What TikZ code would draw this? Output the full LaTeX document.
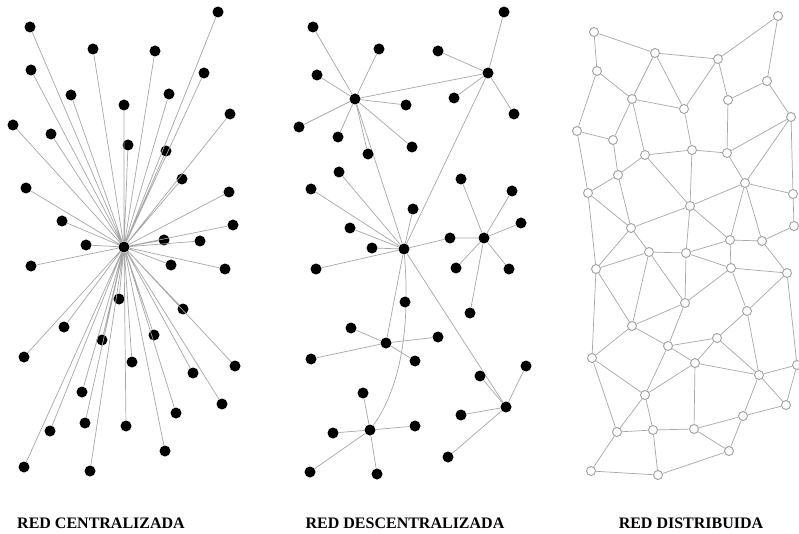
\documentclass[tikz,border=0pt]{standalone}
\usepackage{fontspec}
\setmainfont{Liberation Serif}
\begin{document}
\begin{tikzpicture}[x=1pt, y=-1pt,
    dot/.style={circle, fill=black, inner sep=0pt, minimum size=11pt},
    mesh/.style={circle, draw=gray!75, fill=white, line width=0.9pt, inner sep=0pt, minimum size=9pt},
    link/.style={gray!70, line width=0.7pt},
    caption/.style={font=\bfseries\fontsize{16}{16}\selectfont}]
    \useasboundingbox (0,0) rectangle (799,534);

    % red centralizada
    \node[dot] (c) at (124,247) {};
    \node[dot] (c1) at (218,12) {};
    \node[dot] (c2) at (30,27) {};
    \node[dot] (c3) at (93,49) {};
    \node[dot] (c4) at (155,51) {};
    \node[dot] (c5) at (31,70) {};
    \node[dot] (c6) at (204,73) {};
    \node[dot] (c7) at (71,95) {};
    \node[dot] (c8) at (169,94) {};
    \node[dot] (c9) at (124,105) {};
    \node[dot] (c10) at (230,114) {};
    \node[dot] (c11) at (13,125) {};
    \node[dot] (c12) at (51,134) {};
    \node[dot] (c13) at (128,145) {};
    \node[dot] (c14) at (166,151) {};
    \node[dot] (c15) at (182,179) {};
    \node[dot] (c16) at (26,188) {};
    \node[dot] (c17) at (229,192) {};
    \node[dot] (c18) at (62,221) {};
    \node[dot] (c19) at (233,225) {};
    \node[dot] (c20) at (164,240) {};
    \node[dot] (c21) at (200,241) {};
    \node[dot] (c22) at (86,245) {};
    \node[dot] (c23) at (31,266) {};
    \node[dot] (c24) at (171,265) {};
    \node[dot] (c25) at (225,269) {};
    \node[dot] (c26) at (119,299) {};
    \node[dot] (c27) at (183,309) {};
    \node[dot] (c28) at (64,327) {};
    \node[dot] (c29) at (102,340) {};
    \node[dot] (c30) at (154,335) {};
    \node[dot] (c31) at (24,357) {};
    \node[dot] (c32) at (132,362) {};
    \node[dot] (c33) at (235,366) {};
    \node[dot] (c34) at (193,373) {};
    \node[dot] (c35) at (82,392) {};
    \node[dot] (c36) at (222,404) {};
    \node[dot] (c37) at (176,413) {};
    \node[dot] (c38) at (85,423) {};
    \node[dot] (c39) at (50,431) {};
    \node[dot] (c40) at (126,426) {};
    \node[dot] (c41) at (165,451) {};
    \node[dot] (c42) at (24,467) {};
    \node[dot] (c43) at (90,471) {};
    \draw[link] (c) -- (c1) (c) -- (c2) (c) -- (c3) (c) -- (c4) (c) -- (c5)
        (c) -- (c6) (c) -- (c7) (c) -- (c8) (c) -- (c9) (c) -- (c10)
        (c) -- (c11) (c) -- (c12) (c) -- (c13) (c) -- (c14) (c) -- (c15)
        (c) -- (c16) (c) -- (c17) (c) -- (c18) (c) -- (c19) (c) -- (c20)
        (c) -- (c21) (c) -- (c22) (c) -- (c23) (c) -- (c24) (c) -- (c25)
        (c) -- (c26) (c) -- (c27) (c) -- (c28) (c) -- (c29) (c) -- (c30)
        (c) -- (c31) (c) -- (c32) (c) -- (c33) (c) -- (c34) (c) -- (c35)
        (c) -- (c36) (c) -- (c37) (c) -- (c38) (c) -- (c39) (c) -- (c40)
        (c) -- (c41) (c) -- (c42) (c) -- (c43);

    % red descentralizada
    \node[dot] (h1) at (355,99) {};
    \node[dot] (h2) at (488,73) {};
    \node[dot] (h3) at (404,249) {};
    \node[dot] (h4) at (484,238) {};
    \node[dot] (h5) at (386,343) {};
    \node[dot] (h6) at (506,407) {};
    \node[dot] (h7) at (370,430) {};
    \draw[link] (h1) -- (h2) (h1) -- (h3) (h2) -- (h3) (h3) -- (h5) (h3) -- (h6);
    \draw[link] (h3) .. controls (410,325) and (402,385) .. (h7);

    \node[dot] (a1) at (313,27) {};
    \node[dot] (a2) at (379,49) {};
    \node[dot] (a3) at (317,75) {};
    \node[dot] (a4) at (406,105) {};
    \node[dot] (a5) at (299,127) {};
    \node[dot] (a6) at (338,137) {};
    \node[dot] (a7) at (412,147) {};
    \node[dot] (a8) at (368,154) {};
    \draw[link] (h1) -- (a1) (h1) -- (a2) (h1) -- (a3) (h1) -- (a4)
        (h1) -- (a5) (h1) -- (a6) (h1) -- (a7) (h1) -- (a8);

    \node[dot] (b1) at (504,12) {};
    \node[dot] (b2) at (438,51) {};
    \node[dot] (b3) at (454,98) {};
    \node[dot] (b4) at (514,114) {};
    \draw[link] (h2) -- (b1) (h2) -- (b2) (h2) -- (b3) (h2) -- (b4);

    \node[dot] (e1) at (339,172) {};
    \node[dot] (e2) at (311,189) {};
    \node[dot] (e3) at (413,209) {};
    \node[dot] (e4) at (350,228) {};
    \node[dot] (e5) at (372,248) {};
    \node[dot] (e6) at (316,269) {};
    \node[dot] (e7) at (405,302) {};
    \node[dot] (e8) at (450,238) {};
    \draw[link] (h3) -- (e1) (h3) -- (e2) (h3) -- (e3) (h3) -- (e4)
        (h3) -- (e5) (h3) -- (e6) (h3) -- (e8) (e8) -- (h4);

    \node[dot] (f1) at (461,179) {};
    \node[dot] (f2) at (512,191) {};
    \node[dot] (f3) at (521,223) {};
    \node[dot] (f4) at (456,268) {};
    \node[dot] (f5) at (509,269) {};
    \node[dot] (f6) at (470,313) {};
    \draw[link] (h4) -- (f1) (h4) -- (f2) (h4) -- (f3) (h4) -- (f4)
        (h4) -- (f5) (h4) -- (f6);

    \node[dot] (g1) at (351,328) {};
    \node[dot] (g2) at (438,337) {};
    \node[dot] (g3) at (311,359) {};
    \node[dot] (g4) at (415,361) {};
    \draw[link] (h5) -- (g1) (h5) -- (g2) (h5) -- (g3) (h5) -- (g4);

    \node[dot] (k1) at (526,366) {};
    \node[dot] (k2) at (480,376) {};
    \node[dot] (k3) at (461,415) {};
    \node[dot] (k4) at (448,457) {};
    \draw[link] (h6) -- (k1) (h6) -- (k2) (h6) -- (k3) (h6) -- (k4);

    \node[dot] (m1) at (363,393) {};
    \node[dot] (m2) at (333,433) {};
    \node[dot] (m3) at (415,426) {};
    \node[dot] (m4) at (310,472) {};
    \node[dot] (m5) at (377,474) {};
    \draw[link] (h7) -- (m1) (h7) -- (m2) (h7) -- (m3) (h7) -- (m4) (h7) -- (m5);

    % red distribuida
    \node[mesh] (A) at (778,16) {};
    \node[mesh] (B) at (594,32) {};
    \node[mesh] (C) at (655,53) {};
    \node[mesh] (D) at (718,59) {};
    \node[mesh] (E) at (597,71) {};
    \node[mesh] (F) at (767,81) {};
    \node[mesh] (G) at (632,99) {};
    \node[mesh] (H) at (684,109) {};
    \node[mesh] (I) at (728,100) {};
    \node[mesh] (J) at (791,117) {};
    \node[mesh] (K) at (577,131) {};
    \node[mesh] (L) at (613,140) {};
    \node[mesh] (M) at (645,155) {};
    \node[mesh] (N) at (692,150) {};
    \node[mesh] (O) at (727,153) {};
    \node[mesh] (P) at (618,175) {};
    \node[mesh] (Q) at (745,183) {};
    \node[mesh] (R) at (588,193) {};
    \node[mesh] (S) at (793,194) {};
    \node[mesh] (T) at (690,206) {};
    \node[mesh] (U) at (631,228) {};
    \node[mesh] (V) at (794,226) {};
    \node[mesh] (W) at (730,240) {};
    \node[mesh] (X) at (762,241) {};
    \node[mesh] (Y) at (649,252) {};
    \node[mesh] (Z) at (686,253) {};
    \node[mesh] (n1) at (596,269) {};
    \node[mesh] (n2) at (731,268) {};
    \node[mesh] (n3) at (787,273) {};
    \node[mesh] (n4) at (685,303) {};
    \node[mesh] (n5) at (747,311) {};
    \node[mesh] (n6) at (632,326) {};
    \node[mesh] (n7) at (717,338) {};
    \node[mesh] (n8) at (668,346) {};
    \node[mesh] (n9) at (592,358) {};
    \node[mesh] (p1) at (695,363) {};
    \node[mesh] (p2) at (759,375) {};
    \node[mesh] (p3) at (797,365) {};
    \node[mesh] (p4) at (645,395) {};
    \node[mesh] (p5) at (786,405) {};
    \node[mesh] (p6) at (743,416) {};
    \node[mesh] (p7) at (617,432) {};
    \node[mesh] (p8) at (653,430) {};
    \node[mesh] (p9) at (694,429) {};
    \node[mesh] (q1) at (729,451) {};
    \node[mesh] (q2) at (591,471) {};
    \node[mesh] (q3) at (658,475) {};
    \draw[link] (A) -- (D) (A) -- (F) (B) -- (C) (B) -- (E) (C) -- (D)
        (C) -- (G) (C) -- (H) (D) -- (H) (D) -- (I) (E) -- (G) (E) -- (K)
        (F) -- (I) (F) -- (J) (G) -- (H) (G) -- (L) (G) -- (M) (H) -- (N)
        (I) -- (O) (J) -- (O) (J) -- (Q) (J) -- (S) (K) -- (L) (K) -- (R)
        (L) -- (P) (M) -- (N) (M) -- (P) (M) -- (T) (N) -- (T) (N) -- (O)
        (O) -- (Q) (P) -- (R) (P) -- (U) (Q) -- (T) (Q) -- (S) (Q) -- (W)
        (Q) -- (X) (R) -- (U) (R) -- (n1) (S) -- (V) (T) -- (U) (T) -- (W)
        (T) -- (Z) (U) -- (Y) (U) -- (n1) (V) -- (X) (W) -- (X) (W) -- (Z)
        (W) -- (n2) (X) -- (n3) (Y) -- (Z) (Y) -- (n1) (Y) -- (n6)
        (Y) -- (n4) (Z) -- (n2) (Z) -- (n4) (n1) -- (n6) (n1) -- (n9)
        (n2) -- (n3) (n2) -- (n4) (n2) -- (n5) (n3) -- (n5) (n3) -- (p3)
        (n4) -- (n6) (n4) -- (n8) (n5) -- (n7) (n5) -- (p2) (n6) -- (n8)
        (n6) -- (n9) (n7) -- (n8) (n7) -- (p1) (n7) -- (p2) (n8) -- (p1)
        (n8) -- (p4) (n9) -- (p4) (n9) -- (p7) (p1) -- (p2) (p1) -- (p4)
        (p1) -- (p9) (p2) -- (p3) (p2) -- (p5) (p2) -- (p6) (p3) -- (p5)
        (p4) -- (p7) (p4) -- (p8) (p5) -- (p6) (p6) -- (p9) (p6) -- (q1)
        (p7) -- (p8) (p7) -- (q2) (p8) -- (p9) (p8) -- (q3) (p9) -- (q1)
        (q1) -- (q3) (q2) -- (q3);

    \node[caption] (t1) at (101,523) {RED CENTRALIZADA};
    \node[caption] (t2) at (405,523) {RED DESCENTRALIZADA};
    \node[caption] (t3) at (691,523) {RED DISTRIBUIDA};
\end{tikzpicture}
\end{document}
